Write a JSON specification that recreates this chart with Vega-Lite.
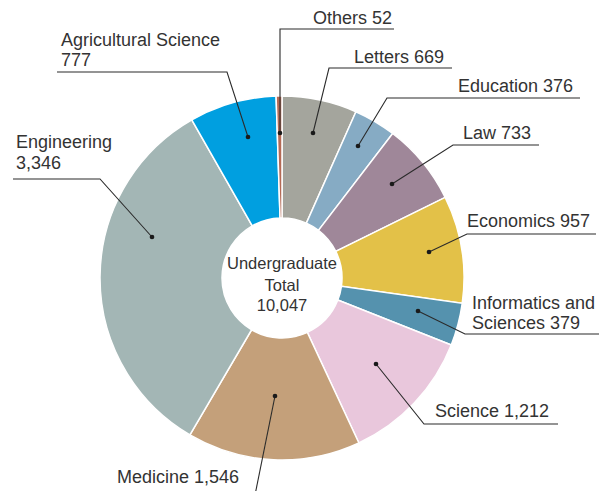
{
  "$schema": "https://vega.github.io/schema/vega-lite/v6.json",
  "width": 612,
  "height": 491,
  "padding": 0,
  "autosize": {"type": "none"},
  "background": "white",
  "config": {"view": {"stroke": null}, "font": "Liberation Sans"},
  "datasets": {
    "slices": [
      {"category": "Letters", "value": 669, "order": 1},
      {"category": "Education", "value": 376, "order": 2},
      {"category": "Law", "value": 733, "order": 3},
      {"category": "Economics", "value": 957, "order": 4},
      {"category": "Informatics and Sciences", "value": 379, "order": 5},
      {"category": "Science", "value": 1212, "order": 6},
      {"category": "Medicine", "value": 1546, "order": 7},
      {"category": "Engineering", "value": 3346, "order": 8},
      {"category": "Agricultural Science", "value": 777, "order": 9},
      {"category": "Others", "value": 52, "order": 10}
    ],
    "leaders": [
      {"label": "Others", "i": 0, "x": -2, "y": 145},
      {"label": "Others", "i": 1, "x": -2, "y": 249},
      {"label": "Others", "i": 2, "x": 112, "y": 249},
      {"label": "Letters", "i": 0, "x": 31, "y": 145},
      {"label": "Letters", "i": 1, "x": 47, "y": 210},
      {"label": "Letters", "i": 2, "x": 170, "y": 210},
      {"label": "Education", "i": 0, "x": 76, "y": 132},
      {"label": "Education", "i": 1, "x": 105, "y": 180},
      {"label": "Education", "i": 2, "x": 298, "y": 180},
      {"label": "Law", "i": 0, "x": 110, "y": 94},
      {"label": "Law", "i": 1, "x": 171, "y": 133},
      {"label": "Law", "i": 2, "x": 257, "y": 133},
      {"label": "Economics", "i": 0, "x": 147, "y": 26},
      {"label": "Economics", "i": 1, "x": 185, "y": 44},
      {"label": "Economics", "i": 2, "x": 314, "y": 44},
      {"label": "Informatics", "i": 0, "x": 136, "y": -33},
      {"label": "Informatics", "i": 1, "x": 183, "y": -56},
      {"label": "Informatics", "i": 2, "x": 317, "y": -56},
      {"label": "Science", "i": 0, "x": 94, "y": -86},
      {"label": "Science", "i": 1, "x": 142, "y": -146},
      {"label": "Science", "i": 2, "x": 276, "y": -146},
      {"label": "Medicine", "i": 0, "x": -7, "y": -118},
      {"label": "Medicine", "i": 1, "x": -28, "y": -222},
      {"label": "Engineering", "i": 0, "x": -130, "y": 41},
      {"label": "Engineering", "i": 1, "x": -182, "y": 99},
      {"label": "Engineering", "i": 2, "x": -269, "y": 99},
      {"label": "Agricultural", "i": 0, "x": -34, "y": 141},
      {"label": "Agricultural", "i": 1, "x": -55, "y": 206},
      {"label": "Agricultural", "i": 2, "x": -225, "y": 206}
    ],
    "labels": [
      {"text": "Others 52", "x": 31, "y": 254},
      {"text": "Letters 669", "x": 72, "y": 215},
      {"text": "Education 376", "x": 176, "y": 186},
      {"text": "Law 733", "x": 181, "y": 139},
      {"text": "Economics 957", "x": 185, "y": 51},
      {"text": "Informatics and", "x": 190, "y": -31},
      {"text": "Sciences 379", "x": 190, "y": -51},
      {"text": "Science 1,212", "x": 153, "y": -139},
      {"text": "Medicine 1,546", "x": -165, "y": -205},
      {"text": "Engineering", "x": -266, "y": 130},
      {"text": "3,346", "x": -266, "y": 109},
      {"text": "Agricultural Science", "x": -221, "y": 232},
      {"text": "777", "x": -221, "y": 212}
    ],
    "center": [
      {"text": "Undergraduate", "x": 0, "y": 9},
      {"text": "Total", "x": 0, "y": -13},
      {"text": "10,047", "x": 0, "y": -33}
    ]
  },
  "layer": [
    {
      "data": {"name": "slices"},
      "mark": {"type": "arc", "radius": 182, "radius2": 60, "stroke": "white", "strokeWidth": 1.5},
      "encoding": {
        "theta": {"field": "value", "type": "quantitative", "stack": true},
        "order": {"field": "order", "type": "quantitative", "sort": "ascending"},
        "color": {
          "field": "category",
          "type": "nominal",
          "legend": null,
          "scale": {
            "domain": ["Letters", "Education", "Law", "Economics", "Informatics and Sciences", "Science", "Medicine", "Engineering", "Agricultural Science", "Others"],
            "range": ["#a4a59d", "#86abc4", "#9f8799", "#e3c148", "#5592ae", "#e9c7dc", "#c4a07a", "#a3b6b5", "#009fe0", "#b56a55"]
          }
        },
        "x": {"datum": 0, "type": "quantitative", "scale": {"domain": [-282, 330], "nice": false, "zero": false}, "axis": null},
        "y": {"datum": 0, "type": "quantitative", "scale": {"domain": [-213, 278], "nice": false, "zero": false}, "axis": null}
      }
    },
    {
      "data": {"name": "leaders"},
      "mark": {"type": "line", "color": "#2b2b2b", "strokeWidth": 1.1},
      "encoding": {
        "x": {"field": "x", "type": "quantitative", "scale": {"domain": [-282, 330], "nice": false, "zero": false}, "axis": null},
        "y": {"field": "y", "type": "quantitative", "scale": {"domain": [-213, 278], "nice": false, "zero": false}, "axis": null},
        "detail": {"field": "label", "type": "nominal"},
        "order": {"field": "i", "type": "quantitative"}
      }
    },
    {
      "data": {"name": "leaders"},
      "transform": [{"filter": "datum.i == 0"}],
      "mark": {"type": "point", "filled": true, "color": "#1a1a1a", "size": 22, "opacity": 1},
      "encoding": {
        "x": {"field": "x", "type": "quantitative", "scale": {"domain": [-282, 330], "nice": false, "zero": false}, "axis": null},
        "y": {"field": "y", "type": "quantitative", "scale": {"domain": [-213, 278], "nice": false, "zero": false}, "axis": null}
      }
    },
    {
      "data": {"name": "labels"},
      "mark": {"type": "text", "align": "left", "baseline": "alphabetic", "fontSize": 18, "color": "#333333"},
      "encoding": {
        "x": {"field": "x", "type": "quantitative", "scale": {"domain": [-282, 330], "nice": false, "zero": false}, "axis": null},
        "y": {"field": "y", "type": "quantitative", "scale": {"domain": [-213, 278], "nice": false, "zero": false}, "axis": null},
        "text": {"field": "text"}
      }
    },
    {
      "data": {"name": "center"},
      "mark": {"type": "text", "align": "center", "baseline": "alphabetic", "fontSize": 16.5, "color": "#333333"},
      "encoding": {
        "x": {"field": "x", "type": "quantitative", "scale": {"domain": [-282, 330], "nice": false, "zero": false}, "axis": null},
        "y": {"field": "y", "type": "quantitative", "scale": {"domain": [-213, 278], "nice": false, "zero": false}, "axis": null},
        "text": {"field": "text"}
      }
    }
  ]
}
